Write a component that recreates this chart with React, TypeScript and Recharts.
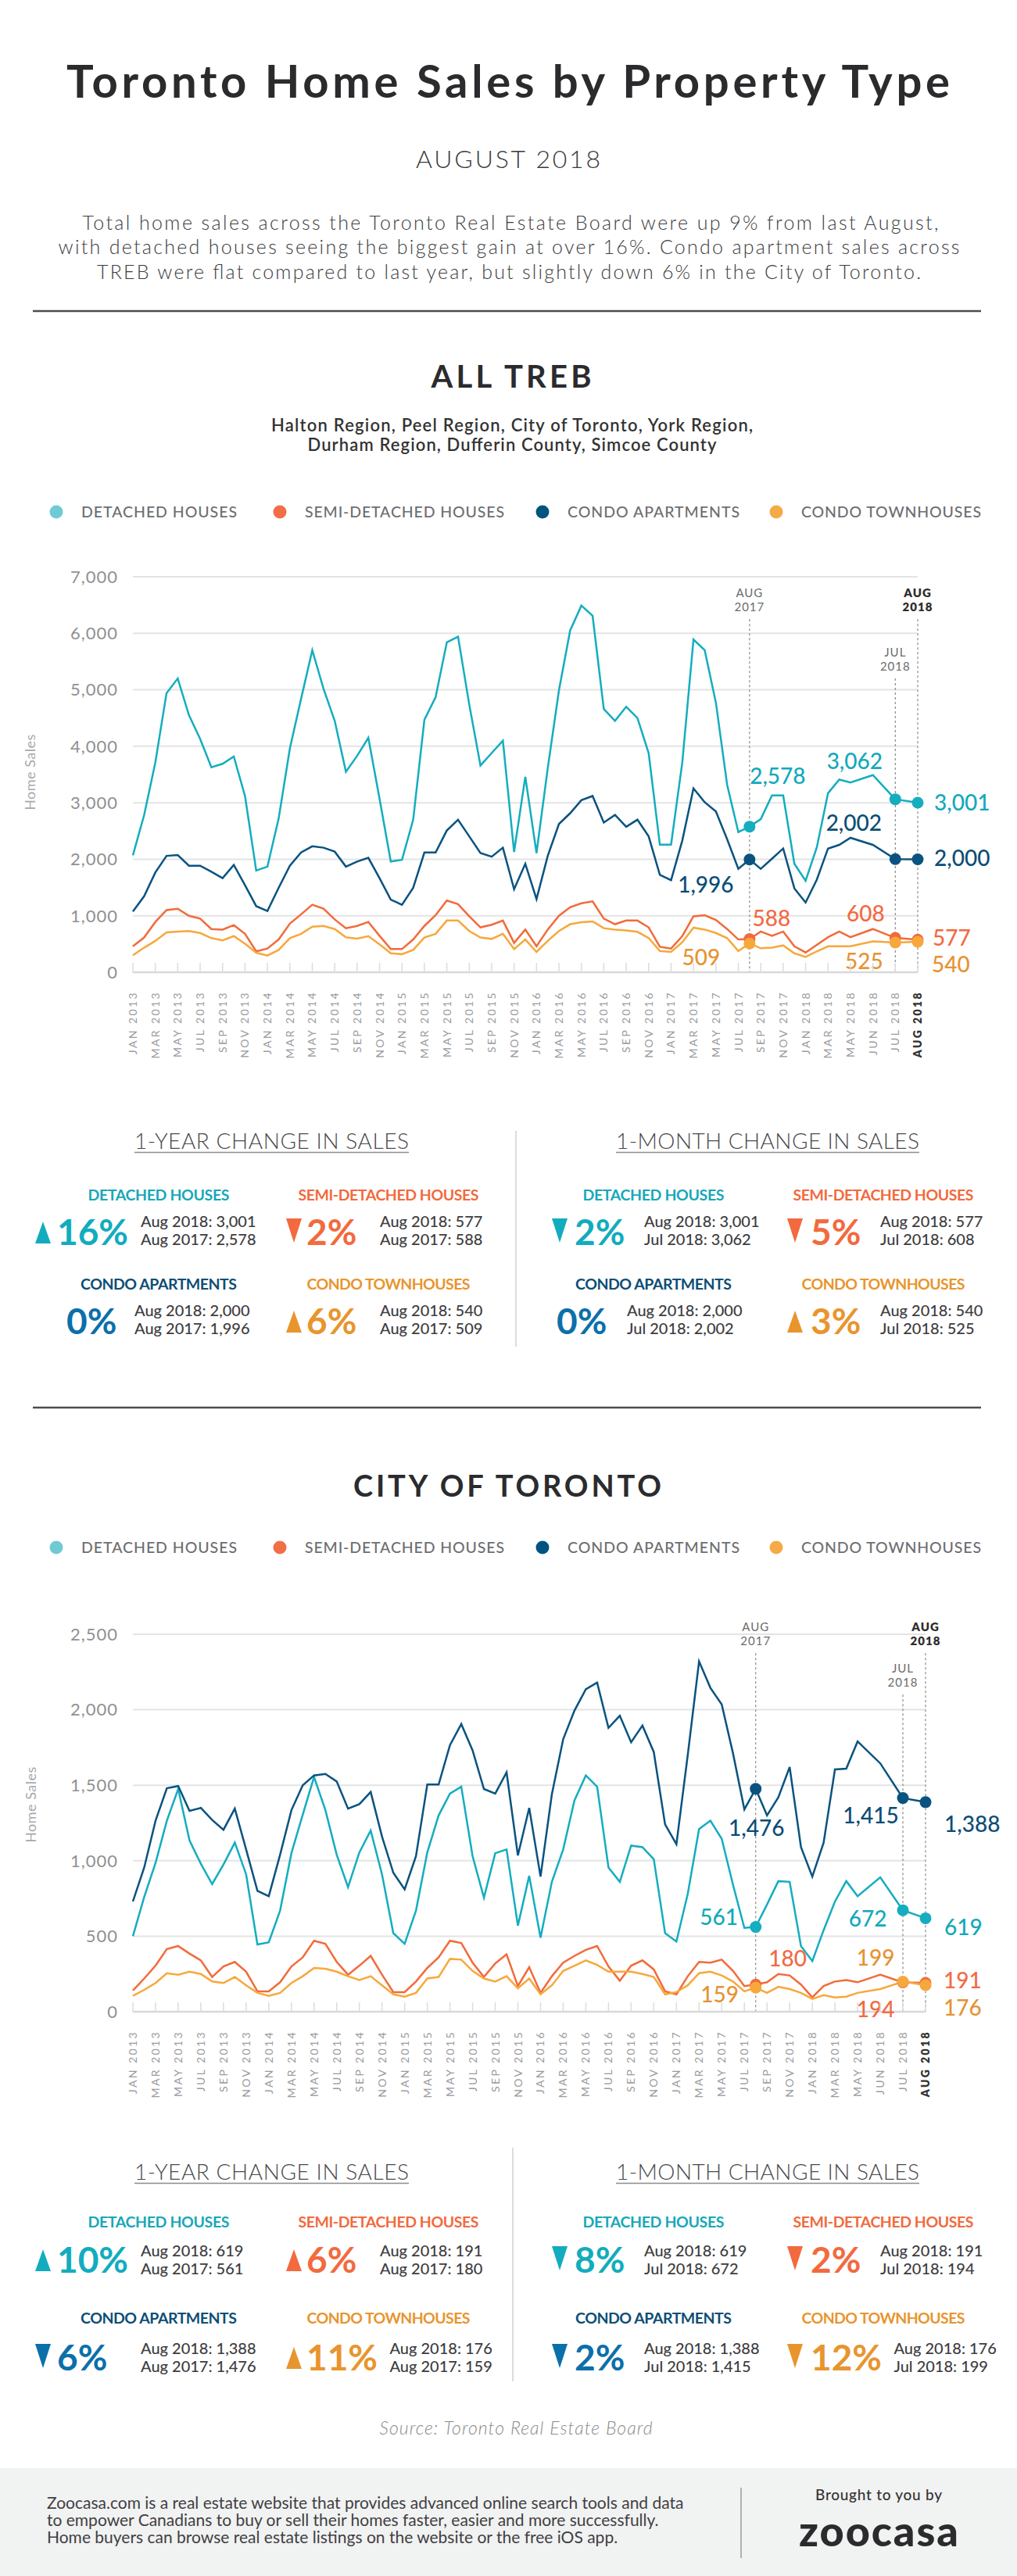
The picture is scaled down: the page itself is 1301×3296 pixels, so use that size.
import React from "react";
import { LineChart, Line, XAxis, YAxis, CartesianGrid, ReferenceLine } from "recharts";

const FONT = "Lato, 'Noto Sans', sans-serif";

// monthly categories, Jan 2013 .. Aug 2018
const MONTH_ABBR = ["JAN", "FEB", "MAR", "APR", "MAY", "JUN", "JUL", "AUG", "SEP", "OCT", "NOV", "DEC"];
const MONTHS: string[] = [];
for (let y = 2013; y <= 2018; y++) {
  for (let m = 0; m < 12; m++) {
    if (y === 2018 && m > 7) break;
    MONTHS.push(`${MONTH_ABBR[m]} ${y}`);
  }
}

const TICK_LABELS = [
  "JAN 2013", "MAR 2013", "MAY 2013", "JUL 2013", "SEP 2013", "NOV 2013",
  "JAN 2014", "MAR 2014", "MAY 2014", "JUL 2014", "SEP 2014", "NOV 2014",
  "JAN 2015", "MAR 2015", "MAY 2015", "JUL 2015", "SEP 2015", "NOV 2015",
  "JAN 2016", "MAR 2016", "MAY 2016", "JUL 2016", "SEP 2016", "NOV 2016",
  "JAN 2017", "MAR 2017", "MAY 2017", "JUL 2017", "SEP 2017", "NOV 2017",
  "JAN 2018", "MAR 2018", "MAY 2018", "JUN 2018", "JUL 2018", "AUG 2018",
];

const TREB_Y_TICKS = [0, 1000, 2000, 3000, 4000, 5000, 6000, 7000];
const CITY_Y_TICKS = [0, 500, 1000, 1500, 2000, 2500];

// ALL TREB
const TREB_DETACHED = [
  2070, 2780, 3710, 4940, 5200, 4550, 4130, 3630, 3690, 3820, 3120, 1800,
  1870, 2720, 3960, 4840, 5700, 5020, 4450, 3550, 3830, 4150, 3070, 1960,
  1990, 2700, 4470, 4870, 5840, 5940, 4740, 3660, 3880, 4100, 2130, 3460,
  2110, 3610, 4990, 6050, 6490, 6310, 4660, 4450, 4700, 4500, 3880, 2260,
  2260, 3710, 5890, 5700, 4770, 3320, 2480, 2578, 2710, 3130, 3130, 1920,
  1620, 2210, 3170, 3410, 3360, 3490, 3062, 3001,
];
const TREB_SEMI = [
  460, 615, 890, 1100, 1125, 1000, 950, 765, 755, 835, 680, 370,
  420, 580, 860, 1025, 1195, 1125, 935, 780, 820, 890, 645, 410,
  410, 580, 820, 1010, 1270, 1205, 990, 795, 840, 915, 520, 755,
  460, 755, 1000, 1150, 1220, 1255, 950, 850, 915, 915, 795, 450,
  420, 640, 990, 1010, 925, 765, 580, 588, 720, 645, 720, 460,
  350, 485, 620, 720, 620, 765, 608, 577,
];
const TREB_CONDO = [
  1075, 1345, 1765, 2060, 2075, 1885, 1885, 1780, 1665, 1900, 1540, 1170,
  1085, 1495, 1885, 2120, 2230, 2205, 2135, 1870, 1960, 2025, 1665, 1285,
  1195, 1495, 2120, 2120, 2510, 2700, 2405, 2110, 2045, 2205, 1470, 1920,
  1295, 2060, 2625, 2815, 3045, 3120, 2650, 2785, 2575, 2700, 2405, 1725,
  1630, 2330, 3255, 3010, 2845, 2355, 1830, 1996, 1830, 2010, 2190, 1485,
  1235, 1640, 2190, 2255, 2380, 2255, 2002, 2000,
];
const TREB_TOWN = [
  300, 435, 555, 705, 720, 730, 695, 605, 565, 640, 505, 345,
  295, 395, 605, 680, 805, 820, 765, 620, 595, 640, 495, 335,
  320, 395, 615, 680, 915, 915, 730, 615, 590, 680, 410, 580,
  360, 555, 730, 850, 885, 900, 780, 755, 740, 715, 605, 375,
  360, 530, 790, 755, 695, 605, 375, 509, 425, 435, 475, 335,
  270, 370, 460, 460, 460, 545, 525, 540,
];

// CITY OF TORONTO
const CITY_DETACHED = [
  500, 760, 985, 1265, 1475, 1135, 980, 845, 975, 1120, 910, 445,
  460, 670, 1050, 1305, 1555, 1335, 1040, 825, 1055, 1200, 910, 520,
  450, 670, 1055, 1300, 1445, 1490, 1030, 755, 1050, 1075, 570, 900,
  490, 860, 1075, 1400, 1565, 1490, 955, 860, 1100, 1090, 1010, 520,
  465, 780, 1210, 1265, 1145, 840, 555, 561, 710, 865, 860, 435,
  335, 540, 730, 865, 765, 890, 672, 619,
];
const CITY_SEMI = [
  140, 220, 305, 415, 435, 385, 340, 230, 300, 330, 265, 135,
  135, 195, 300, 360, 470, 450, 330, 245, 305, 370, 245, 130,
  130, 200, 290, 360, 470, 455, 325, 230, 320, 380, 170, 295,
  125, 235, 325, 370, 410, 435, 300, 205, 305, 340, 280, 135,
  115, 235, 330, 325, 345, 270, 170, 180, 195, 250, 240, 180,
  95, 170, 200, 210, 195, 245, 194, 191,
];
const CITY_CONDO = [
  730, 955, 1265, 1480, 1495, 1330, 1350, 1270, 1205, 1345, 1075, 800,
  765, 1040, 1335, 1500, 1565, 1575, 1525, 1345, 1375, 1455, 1160, 920,
  810, 1030, 1505, 1505, 1765, 1905, 1730, 1475, 1445, 1585, 1035, 1350,
  895, 1440, 1805, 1995, 2135, 2180, 1880, 1960, 1785, 1895, 1720, 1240,
  1110, 1700, 2320, 2145, 2035, 1710, 1340, 1476, 1300, 1420, 1620, 1090,
  895, 1120, 1605, 1610, 1790, 1645, 1415, 1388,
];
const CITY_TOWN = [
  105, 145, 190, 255, 245, 265, 250, 200, 190, 230, 175, 125,
  105, 125, 190, 235, 290, 285, 265, 235, 210, 235, 175, 115,
  100, 125, 220, 230, 350, 345, 270, 220, 200, 235, 155, 220,
  115, 175, 270, 305, 340, 310, 265, 265, 265, 250, 230, 115,
  130, 175, 255, 265, 240, 200, 135, 159, 125, 165, 150, 125,
  85, 110, 95, 100, 125, 150, 199, 176,
];

const SERIES = [
  { key: "detached", name: "DETACHED HOUSES", line: "#15adbf", text: "#12a9bb", legend: "#6fcad6", stat: "#12acbe", statLabel: "#17a8b9", legendW: 199, statW: 181 },
  { key: "semi", name: "SEMI-DETACHED HOUSES", line: "#f26b3b", text: "#f26a44", legend: "#f26e46", stat: "#f26a3e", statLabel: "#f26a3e", legendW: 255, statW: 231 },
  { key: "condo", name: "CONDO APARTMENTS", line: "#0a5380", text: "#0b4d76", legend: "#00547f", stat: "#0b70aa", statLabel: "#0d4e75", legendW: 220, statW: 200 },
  { key: "town", name: "CONDO TOWNHOUSES", line: "#f7a83c", text: "#e69333", legend: "#f4aa46", stat: "#e8952e", statLabel: "#e8952e", legendW: 230, statW: 209 },
];

const fmt = (v: number) => v.toLocaleString("en-US");

// the last three months get double spacing on the axis, like the original
const STRETCH_FROM = MONTHS.indexOf("MAY 2018");
const slot = (i: number) => (i <= STRETCH_FROM ? i : STRETCH_FROM + (i - STRETCH_FROM) * 2);
const LAST_SLOT = slot(MONTHS.length - 1);
const TICK_POS = TICK_LABELS.map((l) => slot(MONTHS.indexOf(l)));
const TICK_BY_POS: Record<number, string> = {};
TICK_LABELS.forEach((l, i) => (TICK_BY_POS[TICK_POS[i]] = l));

const buildRows = (d: number[], s: number[], c: number[], t: number[]) =>
  MONTHS.map((month, i) => ({ month, pos: slot(i), detached: d[i], semi: s[i], condo: c[i], town: t[i] }));

const trebRows = buildRows(TREB_DETACHED, TREB_SEMI, TREB_CONDO, TREB_TOWN);
const cityRows = buildRows(CITY_DETACHED, CITY_SEMI, CITY_CONDO, CITY_TOWN);

const I_AUG17 = MONTHS.indexOf("AUG 2017");
const I_JUL18 = MONTHS.indexOf("JUL 2018");
const I_AUG18 = MONTHS.indexOf("AUG 2018");

// label offsets from the marked point: [dx, dy, anchor]
const TREB_NOTES: any = {
  detached: { "AUG 2017": [36, -55, "middle"], "JUL 2018": [-52, -39, "middle"], "AUG 2018": [21, 10, "start"] },
  condo: { "AUG 2017": [-56, 42, "middle"], "JUL 2018": [-53, -36, "middle"], "AUG 2018": [21, 9, "start"] },
  semi: { "AUG 2017": [28, -16, "middle"], "JUL 2018": [-38, -21, "middle"], "AUG 2018": [19, 8, "start"] },
  town: { "AUG 2017": [-62, 28, "middle"], "JUL 2018": [-40, 34, "middle"], "AUG 2018": [18, 39, "start"] },
};
const CITY_NOTES: any = {
  detached: { "AUG 2017": [-47, -3, "middle"], "JUL 2018": [-45, 21, "middle"], "AUG 2018": [24, 22, "start"] },
  condo: { "AUG 2017": [1, 60, "middle"], "JUL 2018": [-41, 32, "middle"], "AUG 2018": [24, 38, "start"] },
  semi: { "AUG 2017": [41, -23, "middle"], "JUL 2018": [-35, 44, "middle"], "AUG 2018": [23, 7, "start"] },
  town: { "AUG 2017": [-46, 19, "middle"], "JUL 2018": [-35, -21, "middle"], "AUG 2018": [23, 39, "start"] },
};

const TREB_MARKERS = [
  { month: "AUG 2017", top: 6250, bold: false },
  { month: "JUL 2018", top: 5200, bold: false },
  { month: "AUG 2018", top: 6250, bold: true },
];
const CITY_MARKERS = [
  { month: "AUG 2017", top: 2375, bold: false },
  { month: "JUL 2018", top: 2100, bold: false },
  { month: "AUG 2018", top: 2375, bold: true },
];

const noteDot = (key: string, color: string, textColor: string, notes: any) => (p: any) => {
  const n = notes[MONTHS[p.index]];
  if (!n || p.cx == null || p.cy == null) return <g key={`e-${key}-${p.index}`} />;
  return (
    <g key={`d-${key}-${p.index}`}>
      <circle cx={p.cx} cy={p.cy} r={7.5} fill={color} />
      <text x={p.cx + n[0]} y={p.cy + n[1]} textAnchor={n[2]} fill={textColor} fontSize={28} fontWeight={500} fontFamily={FONT}>
        {fmt(p.payload[key])}
      </text>
    </g>
  );
};

const XTick = (p: any) => {
  const label = TICK_BY_POS[p.payload.value];
  const last = label === "AUG 2018";
  return (
    <g>
      <line x1={p.x} x2={p.x} y1={p.y - 12} y2={p.y} stroke="#dcdcdc" strokeWidth={1.5} />
      <text
        transform={`translate(${p.x + 5},${p.y + 24}) rotate(-90)`}
        textAnchor="end"
        fontSize={14}
        letterSpacing={2.4}
        fill={last ? "#333" : "#9a9b9e"}
        fontWeight={last ? 800 : 400}
        fontFamily={FONT}
      >
        {label}
      </text>
    </g>
  );
};

const DateLabel = ({ viewBox, text, bold }: any) => {
  if (!viewBox) return null;
  const x = viewBox.x + (viewBox.width || 0) / 2;
  const y = viewBox.y;
  const [mon, yr] = text.split(" ");
  return (
    <text textAnchor="middle" fontSize={15} letterSpacing={1} fill={bold ? "#2d2d2d" : "#6b6b6b"} fontWeight={bold ? 800 : 400} fontFamily={FONT}>
      <tspan x={x} y={y - 28}>{mon}</tspan>
      <tspan x={x} y={y - 10}>{yr}</tspan>
    </text>
  );
};

function SalesChart({ rows, yTicks, notes, markers, height, margin }: any) {
  const yMax = yTicks[yTicks.length - 1];
  return (
    <LineChart width={1301} height={height} data={rows} margin={margin}>
      <CartesianGrid vertical={false} stroke="#e4e4e4" strokeWidth={2} />
      <XAxis
        type="number"
        dataKey="pos"
        domain={[0, LAST_SLOT]}
        ticks={TICK_POS}
        interval={0}
        tick={XTick}
        tickLine={false}
        tickSize={0}
        tickMargin={0}
        axisLine={{ stroke: "#d8d8d8", strokeWidth: 2.5 }}
        height={110}
      />
      <YAxis
        type="number"
        domain={[0, yMax]}
        ticks={yTicks}
        tickFormatter={fmt}
        width={150}
        axisLine={false}
        tickLine={false}
        tickSize={0}
        tickMargin={19}
        tick={{ fill: "#8f9094", fontSize: 22, fontFamily: FONT, letterSpacing: 1 }}
      />
      {markers.map((m: any) => {
        const xv = slot(MONTHS.indexOf(m.month));
        return (
          <ReferenceLine
            key={m.month}
            segment={[{ x: xv, y: m.top }, { x: xv, y: 0 }]}
            stroke="#8a8a8a"
            strokeWidth={1.2}
            strokeDasharray="3 3"
            label={<DateLabel text={m.month} bold={m.bold} />}
          />
        );
      })}
      {SERIES.map((s) => (
        <Line
          key={s.key}
          type="linear"
          dataKey={s.key}
          stroke={s.line}
          strokeWidth={2.5}
          dot={noteDot(s.key, s.line, s.text, notes[s.key])}
          activeDot={false}
          isAnimationActive={false}
        />
      ))}
    </LineChart>
  );
}

const LEGEND_X = [104, 390, 726, 1025];

function Legend({ y }: any) {
  return (
    <g>
      {SERIES.map((s, i) => (
        <g key={s.key}>
          <circle cx={LEGEND_X[i] - 32} cy={y} r={8.5} fill={s.legend} />
          <text x={LEGEND_X[i]} y={y + 7} fontSize={19.5} fontWeight={500} fill="#6d6e71" fontFamily={FONT} textLength={s.legendW}>
            {s.name}
          </text>
        </g>
      ))}
    </g>
  );
}

const COLS: any = {
  A: { cx: 203, ax: 45, px: 73, sx: 180, zx: 85, zsx: 172 },
  B: { cx: 497, ax: 366, px: 392, sx: 486, zx: 392, zsx: 486 },
  C: { cx: 836, ax: 706, px: 735, sx: 824, zx: 712, zsx: 802 },
  D: { cx: 1130, ax: 1007, px: 1037, sx: 1126, zx: 1037, zsx: 1126 },
};
const PCT_SIZE = 46;

function Stat({ col, row, s, now, prev, nowTag, prevTag }: any) {
  const pct = Math.round(((now - prev) / prev) * 100);
  const up = pct > 0;
  const down = pct < 0;
  const flat = !up && !down;
  const label = `${Math.abs(pct)}%`;
  const px = flat ? col.zx : col.px;
  // keep the detail text clear of wider percentages
  const approxW = ((label.length - 1) * 0.58 + 0.85) * PCT_SIZE;
  const sx = Math.max(flat ? col.zsx : col.sx, px + approxW + 14);
  const b = row.pct;
  return (
    <g fontFamily={FONT}>
      <text x={col.cx} y={row.label} textAnchor="middle" fontSize={19.5} fontWeight={700} fill={s.statLabel} textLength={s.statW}>
        {s.name}
      </text>
      {up && <polygon points={`${col.ax},${b - 2} ${col.ax + 20},${b - 2} ${col.ax + 10},${b - 30}`} fill={s.stat} />}
      {down && <polygon points={`${col.ax},${b - 34} ${col.ax + 20},${b - 34} ${col.ax + 10},${b - 3}`} fill={s.stat} />}
      <text x={px} y={b} fontSize={PCT_SIZE} fontWeight={700} fill={s.stat}>
        {label}
      </text>
      <text x={sx} y={row.s1} fontSize={20} fontWeight={500} fill="#3d3d3f">
        {nowTag}: {fmt(now)}
      </text>
      <text x={sx} y={row.s2} fontSize={20} fontWeight={500} fill="#3d3d3f">
        {prevTag}: {fmt(prev)}
      </text>
    </g>
  );
}

function StatsSection({ data, headY, rows, divTop, divBottom, divX }: any) {
  const [r1, r2] = rows;
  const S = (k: string) => SERIES.find((s) => s.key === k);
  const yearStat = (k: string, col: any, row: any) => (
    <Stat key={`y${k}`} col={col} row={row} s={S(k)} now={data[k][I_AUG18]} prev={data[k][I_AUG17]} nowTag="Aug 2018" prevTag="Aug 2017" />
  );
  const monthStat = (k: string, col: any, row: any) => (
    <Stat key={`m${k}`} col={col} row={row} s={S(k)} now={data[k][I_AUG18]} prev={data[k][I_JUL18]} nowTag="Aug 2018" prevTag="Jul 2018" />
  );
  return (
    <g>
      <text x={347.5} y={headY} textAnchor="middle" fontSize={28} fontWeight={300} fill="#4a4a4c" textLength={351} fontFamily={FONT}>
        1-YEAR CHANGE IN SALES
      </text>
      <line x1={172} x2={523} y1={headY + 4.5} y2={headY + 4.5} stroke="#8c8c8c" strokeWidth={1.5} />
      <text x={982} y={headY} textAnchor="middle" fontSize={28} fontWeight={300} fill="#4a4a4c" textLength={388} fontFamily={FONT}>
        1-MONTH CHANGE IN SALES
      </text>
      <line x1={788} x2={1176} y1={headY + 4.5} y2={headY + 4.5} stroke="#8c8c8c" strokeWidth={1.5} />
      <line x1={divX} x2={divX} y1={divTop} y2={divBottom} stroke="#d0d0d0" strokeWidth={1.5} />
      {yearStat("detached", COLS.A, r1)}
      {yearStat("semi", COLS.B, r1)}
      {yearStat("condo", COLS.A, r2)}
      {yearStat("town", COLS.B, r2)}
      {monthStat("detached", COLS.C, r1)}
      {monthStat("semi", COLS.D, r1)}
      {monthStat("condo", COLS.C, r2)}
      {monthStat("town", COLS.D, r2)}
    </g>
  );
}

const TREB_DATA = { detached: TREB_DETACHED, semi: TREB_SEMI, condo: TREB_CONDO, town: TREB_TOWN };
const CITY_DATA = { detached: CITY_DETACHED, semi: CITY_SEMI, condo: CITY_CONDO, town: CITY_TOWN };

export default function App() {
  const dark = "#2b2b2e";
  return (
    <div style={{ position: "absolute", left: 0, top: 0, width: 1301, height: 3296, background: "#fff", overflow: "hidden" }}>
      <svg width={1301} height={3296} style={{ position: "absolute", left: 0, top: 0 }} fontFamily={FONT}>
        <text x={650} y={125} textAnchor="middle" fontSize={58} fontWeight={700} fill={dark} textLength={1130}>
          Toronto Home Sales by Property Type
        </text>
        <text x={650} y={215} textAnchor="middle" fontSize={32} fontWeight={300} fill="#3a3a3c" textLength={236}>
          AUGUST 2018
        </text>
        <g fontSize={25} fontWeight={300} fill="#3c3c3e" textAnchor="middle">
          <text x={653} y={294} textLength={1095}>Total home sales across the Toronto Real Estate Board were up 9% from last August,</text>
          <text x={651} y={325} textLength={1153}>with detached houses seeing the biggest gain at over 16%. Condo apartment sales across</text>
          <text x={651} y={357} textLength={1054}>TREB were flat compared to last year, but slightly down 6% in the City of Toronto.</text>
        </g>
        <line x1={42} x2={1255} y1={398} y2={398} stroke="#4d4d4f" strokeWidth={2.5} />

        <text x={654} y={496} textAnchor="middle" fontSize={40} fontWeight={700} fill={dark} textLength={205}>
          ALL TREB
        </text>
        <g fontSize={22} fontWeight={600} fill="#333" textAnchor="middle">
          <text x={655} y={552} textLength={616}>Halton Region, Peel Region, City of Toronto, York Region,</text>
          <text x={655} y={577} textLength={523}>Durham Region, Dufferin County, Simcoe County</text>
        </g>
        <Legend y={655} />
        <text transform="translate(44.5,988) rotate(-90)" textAnchor="middle" fontSize={18} fill="#a7a9ac" letterSpacing={0.5}>
          Home Sales
        </text>

        <StatsSection
          data={TREB_DATA}
          headY={1470}
          rows={[
            { label: 1536, pct: 1593, s1: 1570, s2: 1593 },
            { label: 1650, pct: 1707, s1: 1684, s2: 1707 },
          ]}
          divTop={1447}
          divBottom={1723}
          divX={660}
        />
        <line x1={42} x2={1255} y1={1801} y2={1801} stroke="#4d4d4f" strokeWidth={2.5} />

        <text x={649} y={1915} textAnchor="middle" fontSize={38} fontWeight={700} fill={dark} textLength={394}>
          CITY OF TORONTO
        </text>
        <Legend y={1980} />
        <text transform="translate(45.5,2309) rotate(-90)" textAnchor="middle" fontSize={18} fill="#a7a9ac" letterSpacing={0.5}>
          Home Sales
        </text>

        <StatsSection
          data={CITY_DATA}
          headY={2789}
          rows={[
            { label: 2850, pct: 2908, s1: 2887, s2: 2910 },
            { label: 2973, pct: 3033, s1: 3012, s2: 3035 },
          ]}
          divTop={2748}
          divBottom={3047}
          divX={656}
        />

        <text x={660} y={3115} textAnchor="middle" fontSize={23} fontStyle="italic" fontWeight={300} fill="#8a8a8c" textLength={349}>
          Source: Toronto Real Estate Board
        </text>
        <rect x={0} y={3158} width={1301} height={138} fill="#f1f2f2" />
        <g fontSize={21} fill="#414042">
          <text x={60} y={3210}>Zoocasa.com is a real estate website that provides advanced online search tools and data</text>
          <text x={60} y={3232}>to empower Canadians to buy or sell their homes faster, easier and more successfully.</text>
          <text x={60} y={3254}>Home buyers can browse real estate listings on the website or the free iOS app.</text>
        </g>
        <line x1={948} x2={948} y1={3183} y2={3273} stroke="#9a9a9c" strokeWidth={1.5} />
        <text x={1124} y={3199} textAnchor="middle" fontSize={19} fontWeight={500} fill="#333" textLength={162}>
          Brought to you by
        </text>
        <text x={1124} y={3258} textAnchor="middle" fontSize={54} fontWeight={900} fill={dark} textLength={204}>
          zoocasa
        </text>
      </svg>

      <div style={{ position: "absolute", left: 0, top: 700 }}>
        <SalesChart
          rows={trebRows}
          yTicks={TREB_Y_TICKS}
          notes={TREB_NOTES}
          markers={TREB_MARKERS}
          height={680}
          margin={{ top: 38, right: 127, bottom: 26, left: 20 }}
        />
      </div>
      <div style={{ position: "absolute", left: 0, top: 2040 }}>
        <SalesChart
          rows={cityRows}
          yTicks={CITY_Y_TICKS}
          notes={CITY_NOTES}
          markers={CITY_MARKERS}
          height={660}
          margin={{ top: 51, right: 117, bottom: 16, left: 20 }}
        />
      </div>
    </div>
  );
}
